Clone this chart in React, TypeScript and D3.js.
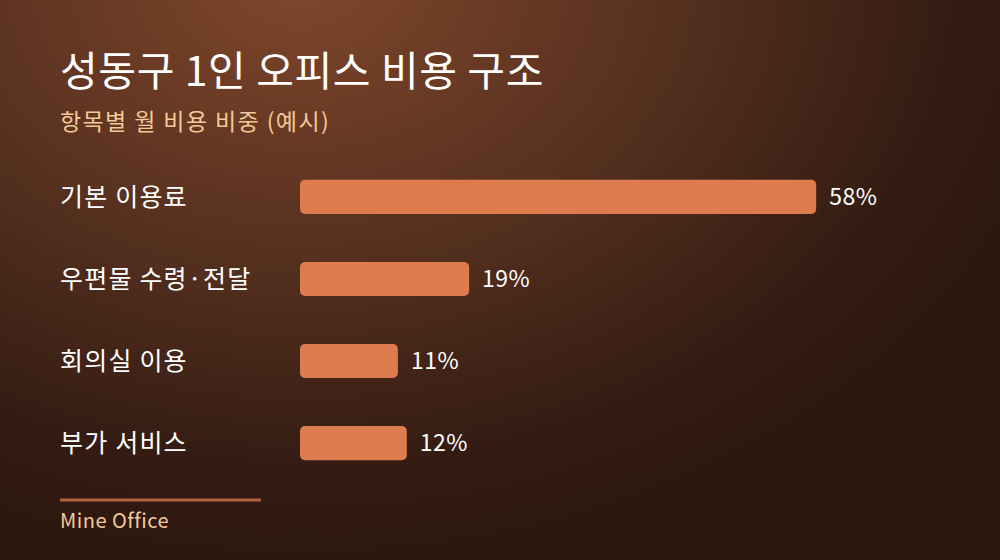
import React from "react";
import * as d3 from "d3";

const categories = ["기본 이용료", "우편물 수령·전달", "회의실 이용", "부가 서비스"];
const values = [58, 19, 11, 12];
const valueLabels = ["58%", "19%", "11%", "12%"];

const W = 1000;
const H = 560;
const FONT = "'Noto Sans CJK KR', 'Noto Sans', sans-serif";

export default function App() {
  const x = d3.scaleLinear().domain([0, 100]).range([300, 1190]);
  const y = d3
    .scaleBand<string>()
    .domain(categories)
    .range([156, 484])
    .paddingInner(0.585)
    .paddingOuter(0.29);
  const bh = y.bandwidth();

  return (
    <svg
      width={W}
      height={H}
      style={{ position: "absolute", left: 0, top: 0, display: "block" }}
      fontFamily={FONT}
    >
      <defs>
        <radialGradient id="bg" cx="300" cy="-20" r="620" gradientUnits="userSpaceOnUse" gradientTransform="translate(300,-20) scale(1.35,1) translate(-300,20)">
          <stop offset="0" stopColor="#80462b" />
          <stop offset="0.45" stopColor="#55301f" />
          <stop offset="0.8" stopColor="#331b12" />
          <stop offset="1" stopColor="#2a170f" />
        </radialGradient>
      </defs>
      <rect x={0} y={0} width={W} height={H} fill="url(#bg)" />
      <text x={60} y={86} fill="#ffffff" fontSize={41} fontWeight={400} letterSpacing={0.6}>
        성동구 1인 오피스 비용 구조
      </text>
      <text x={60} y={130} fill="#f5c997" fontSize={23} letterSpacing={1.4}>
        항목별 월 비용 비중 (예시)
      </text>
      {categories.map((c, i) => {
        const yy = y(c)!;
        const cy = yy + bh / 2;
        return (
          <g key={c}>
            <text x={60} y={cy} dy="0.35em" fill="#ffffff" fontSize={25} letterSpacing={1.2}>
              {c}
            </text>
            <rect x={x(0)} y={yy} width={x(values[i]) - x(0)} height={bh} rx={5} fill="#de7c4f" />
            <text x={x(values[i]) + 13} y={cy} dy="0.35em" fill="#ffffff" fontSize={23} letterSpacing={0.5}>
              {valueLabels[i]}
            </text>
          </g>
        );
      })}
      <line x1={60} x2={261} y1={500} y2={500} stroke="#b3603d" strokeWidth={3} />
      <text x={60} y={528} fill="#f5c997" fontSize={20} letterSpacing={0.5}>
        Mine Office
      </text>
    </svg>
  );
}
